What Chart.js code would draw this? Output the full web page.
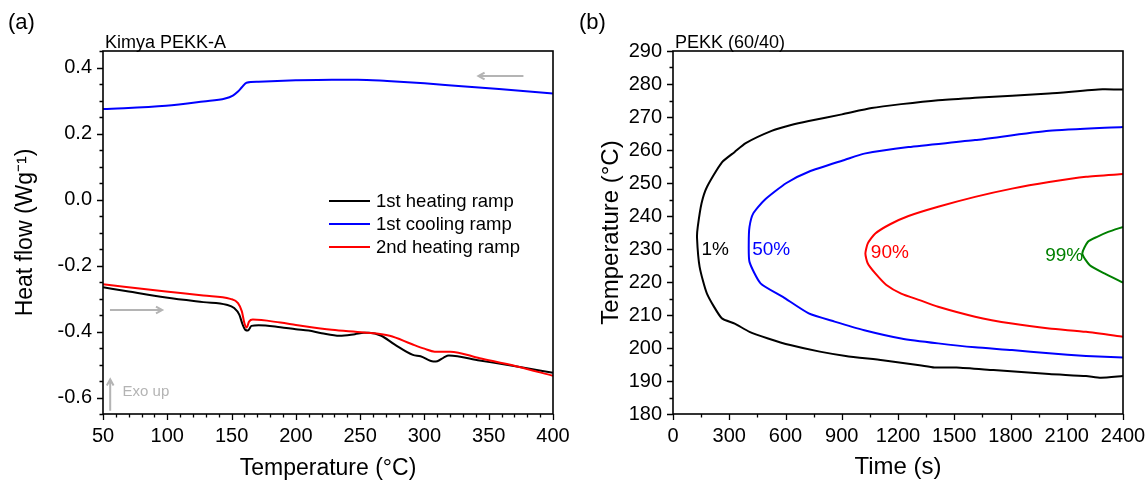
<!DOCTYPE html>
<html>
<head>
<meta charset="utf-8">
<script src="https://cdn.jsdelivr.net/npm/chart.js@4.4.0/dist/chart.umd.min.js"></script>
<style>
  body { margin: 0; background: #fff; }
  #wrap { position: relative; width: 1148px; height: 482px; }
  canvas { position: absolute; top: 0; }
</style>
</head>
<body>
<div id="wrap">
  <canvas id="dscChart" width="574" height="482" style="left:0"></canvas>
  <canvas id="tttChart" width="574" height="482" style="left:574px"></canvas>
</div>
<script>
// (a) DSC ramps: temperature (°C) vs heat flow (W/g)
const heat1Temp = [50, 70, 99, 128, 146, 152, 156, 158.7, 160.7, 162.7, 165.5, 171, 188, 200, 210, 220, 234, 246, 253, 257, 266, 277, 291, 297, 307, 310, 315, 319, 343, 372, 400];
const heat1Flow = [-0.266, -0.279, -0.297, -0.311, -0.319, -0.329, -0.349, -0.380, -0.395, -0.397, -0.383, -0.381, -0.387, -0.393, -0.397, -0.405, -0.413, -0.408, -0.404, -0.404, -0.412, -0.440, -0.471, -0.475, -0.491, -0.490, -0.479, -0.473, -0.488, -0.506, -0.525];

const coolTemp = [50, 99, 128, 145, 151, 155, 158, 161.6, 171, 200, 228, 248, 271, 300, 329, 358, 400];
const coolFlow = [0.274, 0.284, 0.297, 0.306, 0.315, 0.327, 0.340, 0.354, 0.357, 0.361, 0.363, 0.363, 0.359, 0.352, 0.343, 0.335, 0.321];

const heat2Temp = [50, 99, 128, 149, 155, 158, 160, 161.7, 163.6, 166.5, 188, 200, 228, 253, 273, 290, 300, 308, 320, 343, 372, 400];
const heat2Flow = [-0.257, -0.279, -0.291, -0.301, -0.314, -0.339, -0.375, -0.388, -0.370, -0.364, -0.373, -0.380, -0.395, -0.403, -0.413, -0.438, -0.452, -0.461, -0.461, -0.481, -0.506, -0.534];

const dscLabels = ['1st heating ramp', '1st cooling ramp', '2nd heating ramp'];
const dscTicksX = [50, 100, 150, 200, 250, 300, 350, 400];
const dscTicksY = [-0.6, -0.4, -0.2, 0.0, 0.2, 0.4];

// (b) TTT contours: time (s) vs temperature (°C)
const c1Time = [2400, 2291, 2006, 1611, 1414, 1217, 1059, 901, 724, 625, 526, 388, 329, 260, 181, 152, 132, 128, 142, 181, 260, 329, 408, 507, 625, 783, 921, 1118, 1315, 1394, 1512, 1709, 2006, 2203, 2282, 2400];
const c1Temp = [278.3, 278.4, 277.1, 275.8, 275.1, 273.9, 272.7, 270.8, 268.8, 267.5, 265.8, 262.1, 259.4, 256.2, 248.8, 243.8, 236.7, 233.5, 224.6, 216.5, 209.0, 207.4, 204.9, 202.9, 200.9, 198.9, 197.6, 196.3, 194.8, 194.1, 194.1, 193.3, 192.1, 191.5, 191.0, 191.5];

const c2Time = [2400, 2006, 1611, 1256, 1020, 921, 724, 605, 487, 428, 408, 404, 408, 467, 586, 724, 862, 1020, 1217, 1414, 1611, 1808, 2006, 2203, 2400];
const c2Temp = [267.0, 265.8, 263.0, 260.9, 258.9, 257.1, 253.4, 250.0, 244.8, 240.8, 236.7, 231.7, 226.1, 219.6, 215.5, 210.5, 208.0, 205.4, 202.9, 201.4, 200.2, 199.4, 198.4, 197.6, 197.1];

const c3Time = [2400, 2203, 2006, 1808, 1611, 1414, 1256, 1158, 1079, 1039, 1026, 1039, 1079, 1138, 1217, 1315, 1414, 1611, 1808, 2006, 2203, 2400];
const c3Temp = [252.7, 251.9, 250.3, 248.3, 245.8, 242.8, 240.0, 237.5, 234.7, 231.7, 228.6, 225.6, 222.6, 219.1, 216.5, 214.5, 212.5, 209.5, 207.4, 205.9, 204.9, 203.4];

const c4Time = [2400, 2321, 2262, 2213, 2183, 2223, 2301, 2400];
const c4Temp = [236.7, 235.2, 233.7, 232.2, 228.6, 225.1, 222.6, 219.8];

const contourLabels = ['1%', '50%', '90%', '99%'];
const labelTime = [152, 422, 1055, 1985];
const labelTemp = [229.7, 229.8, 229.0, 227.8];
const tttTicksX = [0, 300, 600, 900, 1200, 1500, 1800, 2100, 2400];
const tttTicksY = [180, 190, 200, 210, 220, 230, 240, 250, 260, 270, 280, 290];

Chart.defaults.font.family = "'Liberation Sans', Arial, sans-serif";
Chart.defaults.color = '#000';

const toPts = (xs, ys) => xs.map((v, i) => ({ x: v, y: ys[i] }));

// box frame + outward major/minor ticks
const frameTicks = {
  id: 'frameTicks',
  afterDatasetsDraw(chart, args, opts) {
    const { ctx, chartArea: a, scales: { x, y } } = chart;
    ctx.save();
    ctx.strokeStyle = '#000';
    ctx.lineWidth = 1.3;
    ctx.beginPath();
    const majX = x.ticks.map(t => t.value);
    const nx = Math.round((x.max - x.min) / opts.xMinor);
    for (let i = 0; i <= nx; i++) {
      const v = x.min + i * opts.xMinor;
      const big = majX.some(m => Math.abs(m - v) < 1e-6);
      const px = Math.round(x.getPixelForValue(v)) + 0.5;
      ctx.moveTo(px, a.bottom);
      ctx.lineTo(px, a.bottom + (big ? 6 : 3.5));
    }
    const majY = y.ticks.map(t => t.value);
    const ny = Math.round((y.max - y.min) / opts.yMinor);
    for (let i = 0; i <= ny; i++) {
      const v = y.min + i * opts.yMinor;
      const big = majY.some(m => Math.abs(m - v) < 1e-6);
      const py = Math.round(y.getPixelForValue(v)) + 0.5;
      ctx.moveTo(a.left, py);
      ctx.lineTo(a.left - (big ? 6 : 3.5), py);
    }
    ctx.stroke();
    ctx.lineWidth = 1.6;
    ctx.strokeRect(a.left, a.top, a.right - a.left, a.bottom - a.top);
    ctx.restore();
  },
  afterDraw(chart, args, opts) {
    const { ctx, chartArea: a } = chart;
    ctx.save();
    ctx.fillStyle = '#000';
    ctx.textBaseline = 'alphabetic';
    ctx.textAlign = 'left';
    ctx.font = "22px 'Liberation Sans', Arial, sans-serif";
    ctx.fillText(opts.panel, opts.panelX, 29);
    ctx.font = "18px 'Liberation Sans', Arial, sans-serif";
    ctx.fillText(opts.subtitle, a.left + 2, 48);
    ctx.restore();
  }
};

// (a) extras: grey arrows, "Exo up", in-plot legend
const dscArrows = [
  { x1: 377, y1: 0.374, x2: 342, y2: 0.374 },
  { x1: 55.4, y1: -0.335, x2: 96, y2: -0.335 },
  { x1: 55.6, y1: -0.640, x2: 55.6, y2: -0.545 }
];
const dscExtras = {
  id: 'dscExtras',
  afterDraw(chart) {
    const { ctx, chartArea: a, scales: { x, y } } = chart;
    ctx.save();
    ctx.strokeStyle = '#b4b4b4';
    ctx.lineWidth = 2;
    dscArrows.forEach(ar => {
      const x1 = x.getPixelForValue(ar.x1), y1 = y.getPixelForValue(ar.y1);
      const x2 = x.getPixelForValue(ar.x2), y2 = y.getPixelForValue(ar.y2);
      const ang = Math.atan2(y2 - y1, x2 - x1);
      ctx.beginPath();
      ctx.moveTo(x1, y1);
      ctx.lineTo(x2, y2);
      ctx.moveTo(x2 - 7 * Math.cos(ang - 0.5), y2 - 7 * Math.sin(ang - 0.5));
      ctx.lineTo(x2, y2);
      ctx.lineTo(x2 - 7 * Math.cos(ang + 0.5), y2 - 7 * Math.sin(ang + 0.5));
      ctx.stroke();
    });
    ctx.fillStyle = '#b4b4b4';
    ctx.font = "15px 'Liberation Sans', Arial, sans-serif";
    ctx.textBaseline = 'middle';
    ctx.fillText('Exo up', x.getPixelForValue(65.2), y.getPixelForValue(-0.583));

    // legend
    ctx.font = "18.5px 'Liberation Sans', Arial, sans-serif";
    const lx = a.left + 226, ly = a.top + 150;
    chart.data.datasets.forEach((ds, i) => {
      const yy = ly + i * 23;
      ctx.strokeStyle = ds.borderColor;
      ctx.lineWidth = 2.2;
      ctx.beginPath();
      ctx.moveTo(lx, yy);
      ctx.lineTo(lx + 41, yy);
      ctx.stroke();
      ctx.fillStyle = '#000';
      ctx.fillText(ds.label, lx + 47, yy + 1);
    });
    ctx.restore();
  }
};

// (b) extras: contour labels
const tttExtras = {
  id: 'tttExtras',
  afterDraw(chart) {
    const { ctx, scales: { x, y } } = chart;
    ctx.save();
    ctx.font = "19px 'Liberation Sans', Arial, sans-serif";
    ctx.textBaseline = 'middle';
    ctx.textAlign = 'left';
    contourLabels.forEach((t, i) => {
      ctx.fillStyle = chart.data.datasets[i].borderColor;
      ctx.fillText(t, x.getPixelForValue(labelTime[i]), y.getPixelForValue(labelTemp[i]));
    });
    ctx.restore();
  }
};

// grid hidden, but tickLength still offsets the labels (keeps edge padding small)
function axisX(min, max, ticks, title, titleSize) {
  return {
    type: 'linear', min: min, max: max,
    afterBuildTicks: s => { s.ticks = ticks.map(v => ({ value: v })); },
    afterFit: s => { s.height = 68; },
    grid: { display: false, drawTicks: true, tickLength: 10 },
    border: { display: false },
    ticks: { font: { size: 20 }, padding: 0, maxRotation: 0, autoSkip: false, callback: v => String(v) },
    title: { display: true, text: title, font: { size: titleSize }, padding: { top: 0, bottom: 0 } }
  };
}
function axisY(min, max, ticks, title, titleSize, width, pad, fmt) {
  return {
    type: 'linear', min: min, max: max,
    afterBuildTicks: s => { s.ticks = ticks.map(v => ({ value: v })); },
    afterFit: s => { s.width = width; },
    grid: { display: false, drawTicks: true, tickLength: 11 },
    border: { display: false },
    ticks: { font: { size: 20 }, padding: 0, autoSkip: false, callback: fmt },
    title: { display: true, text: title, font: { size: titleSize }, padding: { top: pad, bottom: 0 } }
  };
}

new Chart(document.getElementById('dscChart'), {
  type: 'line',
  data: {
    datasets: [
      { label: dscLabels[0], data: toPts(heat1Temp, heat1Flow), borderColor: '#000000', order: 2 },
      { label: dscLabels[1], data: toPts(coolTemp, coolFlow), borderColor: '#0000ff', order: 1 },
      { label: dscLabels[2], data: toPts(heat2Temp, heat2Flow), borderColor: '#ff0000', order: 0 }
    ]
  },
  options: {
    responsive: false,
    animation: false,
    devicePixelRatio: 1,
    layout: { padding: { top: 51, right: 21, left: 0, bottom: 0 } },
    elements: { point: { radius: 0 }, line: { borderWidth: 2, tension: 0.25, cubicInterpolationMode: 'monotone' } },
    plugins: {
      legend: { display: false },
      tooltip: { enabled: false },
      frameTicks: { xMinor: 10, yMinor: 0.05, panel: '(a)', panelX: 8, subtitle: 'Kimya PEKK-A' }
    },
    scales: {
      x: axisX(50, 400, dscTicksX, 'Temperature (°C)', 23),
      y: axisY(-0.65, 0.45, dscTicksY, 'Heat flow (Wg⁻¹)', 23, 103, 12, v => v.toFixed(1))
    }
  },
  plugins: [frameTicks, dscExtras]
});

new Chart(document.getElementById('tttChart'), {
  type: 'scatter',
  data: {
    datasets: [
      { label: contourLabels[0], data: toPts(c1Time, c1Temp), borderColor: '#000000' },
      { label: contourLabels[1], data: toPts(c2Time, c2Temp), borderColor: '#0000ff' },
      { label: contourLabels[2], data: toPts(c3Time, c3Temp), borderColor: '#ff0000' },
      { label: contourLabels[3], data: toPts(c4Time, c4Temp), borderColor: '#008000' }
    ]
  },
  options: {
    responsive: false,
    animation: false,
    devicePixelRatio: 1,
    showLine: true,
    layout: { padding: { top: 51, right: 25, left: 0, bottom: 0 } },
    elements: { point: { radius: 0 }, line: { borderWidth: 2, tension: 0.2 } },
    plugins: {
      legend: { display: false },
      tooltip: { enabled: false },
      frameTicks: { xMinor: 150, yMinor: 5, panel: '(b)', panelX: 5, subtitle: 'PEKK (60/40)' }
    },
    scales: {
      x: axisX(0, 2400, tttTicksX, 'Time (s)', 24),
      y: axisY(180, 290, tttTicksY, 'Temperature (°C)', 24, 99, 23, v => String(v))
    }
  },
  plugins: [frameTicks, tttExtras]
});
</script>
</body>
</html>
